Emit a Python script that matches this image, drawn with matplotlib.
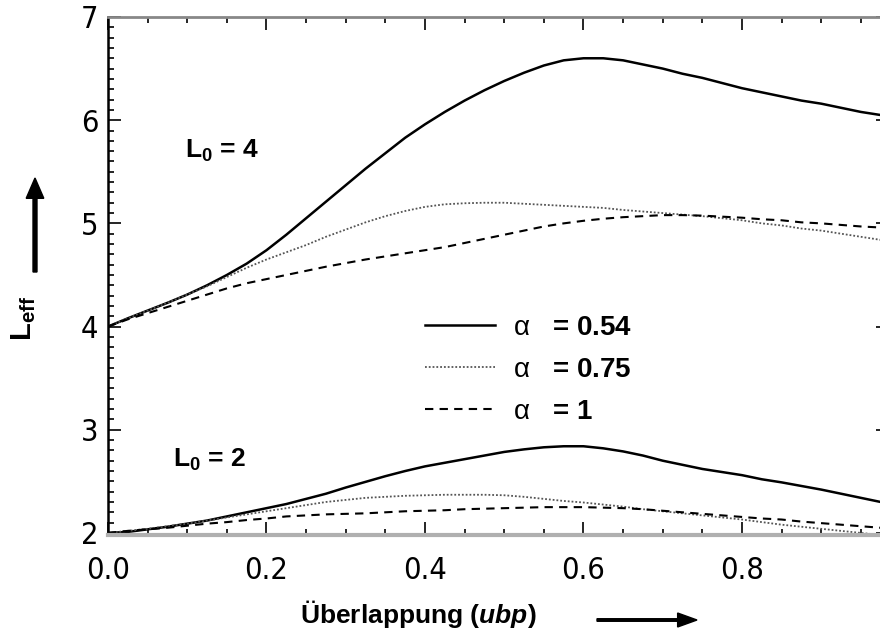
import matplotlib
matplotlib.use("Agg")
import matplotlib.pyplot as plt
from matplotlib.ticker import MultipleLocator, FormatStrFormatter
from matplotlib.patches import FancyArrow

# Ueberlappung (ubp) - gemeinsame Stuetzstellen
ubp = [0.0, 0.025, 0.05, 0.075, 0.1, 0.125, 0.15, 0.175, 0.2, 0.225,
       0.25, 0.275, 0.3, 0.325, 0.35, 0.375, 0.4, 0.425, 0.45, 0.475,
       0.5, 0.525, 0.55, 0.575, 0.6, 0.625, 0.65, 0.675, 0.7, 0.725,
       0.75, 0.775, 0.8, 0.825, 0.85, 0.875, 0.9, 0.925, 0.95, 0.975, 0.985]

# L0 = 4
l4_a054 = [4.00, 4.08, 4.155, 4.23, 4.31, 4.40, 4.50, 4.61, 4.74, 4.89,
           5.05, 5.21, 5.37, 5.53, 5.68, 5.83, 5.96, 6.08, 6.19, 6.29,
           6.38, 6.46, 6.53, 6.58, 6.60, 6.60, 6.58, 6.54, 6.50, 6.45,
           6.41, 6.36, 6.31, 6.27, 6.23, 6.19, 6.16, 6.12, 6.08, 6.05, 6.04]
l4_a075 = [4.00, 4.08, 4.155, 4.23, 4.31, 4.39, 4.48, 4.57, 4.65, 4.72,
           4.79, 4.87, 4.94, 5.01, 5.07, 5.12, 5.16, 5.185, 5.195, 5.20,
           5.20, 5.19, 5.18, 5.17, 5.16, 5.15, 5.13, 5.115, 5.10, 5.085,
           5.07, 5.05, 5.03, 5.00, 4.98, 4.95, 4.93, 4.90, 4.87, 4.84, 4.83]
l4_a1 = [4.00, 4.07, 4.13, 4.19, 4.25, 4.31, 4.37, 4.42, 4.46, 4.50,
         4.54, 4.58, 4.615, 4.65, 4.68, 4.71, 4.74, 4.77, 4.81, 4.85,
         4.89, 4.93, 4.97, 5.00, 5.025, 5.045, 5.06, 5.07, 5.08, 5.08,
         5.075, 5.065, 5.055, 5.04, 5.03, 5.01, 5.00, 4.985, 4.97, 4.96, 4.955]

# L0 = 2
l2_a054 = [2.00, 2.01, 2.035, 2.06, 2.09, 2.12, 2.16, 2.20, 2.24, 2.28,
           2.33, 2.38, 2.44, 2.495, 2.55, 2.60, 2.645, 2.68, 2.715, 2.75,
           2.785, 2.81, 2.83, 2.84, 2.84, 2.82, 2.79, 2.75, 2.70, 2.66,
           2.62, 2.59, 2.56, 2.52, 2.49, 2.455, 2.42, 2.38, 2.34, 2.30, 2.285]
l2_a075 = [2.00, 2.02, 2.04, 2.065, 2.09, 2.12, 2.15, 2.18, 2.21, 2.24,
           2.27, 2.30, 2.32, 2.34, 2.35, 2.36, 2.365, 2.37, 2.37, 2.37,
           2.365, 2.35, 2.33, 2.31, 2.295, 2.275, 2.255, 2.23, 2.21, 2.19,
           2.17, 2.15, 2.13, 2.105, 2.08, 2.06, 2.04, 2.02, 2.00, 1.98, 1.975]
l2_a1 = [2.00, 2.02, 2.035, 2.05, 2.07, 2.09, 2.105, 2.125, 2.14, 2.16,
         2.17, 2.18, 2.185, 2.19, 2.20, 2.21, 2.215, 2.22, 2.23, 2.235,
         2.24, 2.245, 2.25, 2.25, 2.25, 2.245, 2.24, 2.23, 2.215, 2.20,
         2.185, 2.17, 2.155, 2.14, 2.13, 2.11, 2.095, 2.08, 2.065, 2.05, 2.045]

alpha_labels = [r"$\mathrm{\alpha}$   = 0.54", r"$\mathrm{\alpha}$   = 0.75", r"$\mathrm{\alpha}$   = 1"]

plt.rcParams["font.family"] = ["Liberation Sans", "DejaVu Sans"]
plt.rcParams["mathtext.fontset"] = "custom"
plt.rcParams["mathtext.rm"] = "Liberation Sans"
plt.rcParams["mathtext.it"] = "Liberation Sans:bold:italic"
plt.rcParams["mathtext.bf"] = "Liberation Sans:bold"

fig = plt.figure(figsize=(8.8, 6.35), dpi=100)
ax = fig.add_axes([108 / 880, 1 - 535 / 635, (888.6 - 108) / 880, (535 - 17) / 635])

# Kurven
stil_solid = dict(color="black", lw=1.8, ls="-", solid_joinstyle="round")
stil_dot = dict(color="#555555", lw=1.3, ls=(0, (1, 1.1)))
stil_dash = dict(color="black", lw=1.5, ls=(0, (4, 3)))

h1, = ax.plot(ubp, l4_a054, **stil_solid)
h2, = ax.plot(ubp, l4_a075, **stil_dot)
h3, = ax.plot(ubp, l4_a1, **stil_dash)
ax.plot(ubp, l2_a054, **stil_solid)
ax.plot(ubp, l2_a075, **stil_dot)
ax.plot(ubp, l2_a1, **stil_dash)

ax.set_xlim(0, 0.985)
ax.set_ylim(1.98, 7.0)

ax.xaxis.set_major_locator(MultipleLocator(0.2))
ax.xaxis.set_minor_locator(MultipleLocator(0.05))
ax.yaxis.set_major_locator(MultipleLocator(1))
ax.yaxis.set_minor_locator(MultipleLocator(0.1))
ax.xaxis.set_major_formatter(FormatStrFormatter("%.1f"))

ax.tick_params(which="both", direction="in", top=True, right=True, color="black")
ax.tick_params(which="major", length=9.5, width=1.2)
ax.tick_params(which="minor", length=4.5, width=1.2)
ax.tick_params(axis="x", which="major", pad=15)
ax.tick_params(axis="y", which="major", pad=7)
for lab in ax.get_xticklabels() + ax.get_yticklabels():
    lab.set_fontfamily("DejaVu Sans")
    lab.set_fontstretch("condensed")
    lab.set_fontsize(22)

ax.spines["left"].set_linewidth(1.8)
ax.spines["bottom"].set_color("#b0b0b0")
ax.spines["bottom"].set_linewidth(3)
ax.spines["top"].set_color("#888888")
ax.spines["top"].set_linewidth(2)
ax.spines["right"].set_visible(False)

# Beschriftungen
ax.text(0.097, 5.70, r"$\mathbf{L_0}$ = 4", fontsize=19, fontweight="bold", va="center")
ax.text(0.082, 2.71, r"$\mathbf{L_0}$ = 2", fontsize=19, fontweight="bold", va="center")

fig.text(418 / 880, 1 - 614 / 635, r"Überlappung ($ubp$)", fontsize=19,
         fontweight="bold", ha="center", va="center")
fig.text(24 / 880, 1 - 318 / 635, r"$\mathbf{L_{eff}}$", fontsize=21,
         rotation=90, ha="center", va="center")

# Pfeile
fig.patches.append(FancyArrow(
    597 / 880, 1 - 620 / 635, 100 / 880, 0, width=0.004, head_width=0.022,
    head_length=0.022, length_includes_head=True, color="black", transform=fig.transFigure))
fig.patches.append(FancyArrow(
    35 / 880, 1 - 272 / 635, 0, 94 / 635, width=0.0045, head_width=0.02,
    head_length=0.032, length_includes_head=True, color="black", transform=fig.transFigure))

leg = ax.legend([h1, h2, h3], alpha_labels, loc="upper left",
                bbox_to_anchor=(425 / 880, 1 - 315 / 635), bbox_transform=fig.transFigure,
                frameon=False, borderpad=0, borderaxespad=0, handlelength=2.52,
                handletextpad=0.65, labelspacing=0.57,
                prop={"size": 20, "weight": "bold"})

fig.savefig("out.png", dpi=100)
